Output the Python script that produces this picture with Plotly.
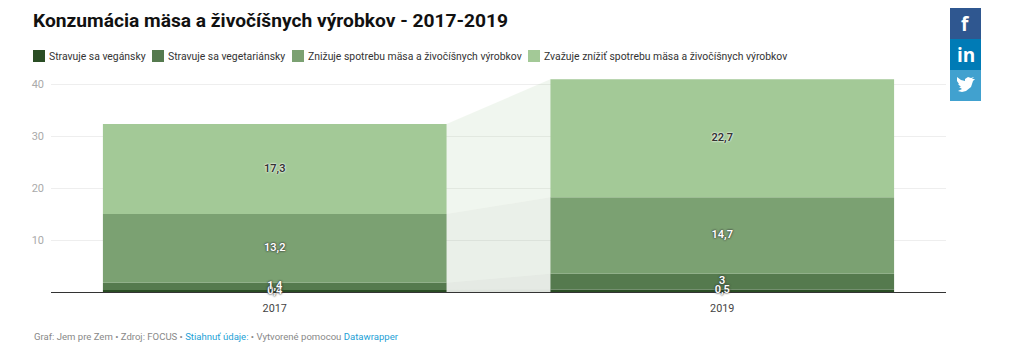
import plotly.graph_objects as go

W, H = 1024, 353
years = ["2017", "2019"]
series_names = ["Stravuje sa vegánsky", "Stravuje sa vegetariánsky",
                "Znižuje spotrebu mäsa a živočíšnych výrobkov",
                "Zvažuje znížiť spotrebu mäsa a živočíšnych výrobkov"]
vegan = [0.4, 0.5]
vegetarian = [1.4, 3]
reducing = [13.2, 14.7]
considering = [17.3, 22.7]
colors = ["#2a4d24", "#557a4e", "#7ba172", "#a3c997"]
text_colors = ["#ffffff", "#ffffff", "#ffffff", "#333333"]
legend_x = [33, 152, 292, 528]
yticks = [10, 20, 30, 40]
title = "Konzumácia mäsa a živočíšnych výrobkov - 2017-2019"

all_series = [vegan, vegetarian, reducing, considering]
xs = [0, 1]
bw = 0.768
FONT = "Roboto"

fig = go.Figure()
base = [0, 0]
for name, vals, c, tc in zip(series_names, all_series, colors, text_colors):
    top = [b + v for b, v in zip(base, vals)]
    fig.add_trace(go.Scatter(
        x=[xs[0] + bw / 2, xs[1] - bw / 2, xs[1] - bw / 2, xs[0] + bw / 2],
        y=[base[0], base[1], top[1], top[0]],
        fill="toself", fillcolor=c, opacity=0.15, mode="none",
        hoverinfo="skip", showlegend=False))
    fig.add_trace(go.Bar(x=xs, y=vals, base=base, width=bw, name=name,
                         marker=dict(color=c, line=dict(width=0)), showlegend=False))
    base = top

base = [0, 0]
for vals, tc in zip(all_series, text_colors):
    mid = [b + v / 2 for b, v in zip(base, vals)]
    shadow = ("0 0 2px #ffffff, 0 0 2px #ffffff" if tc != "#ffffff"
              else "0 0 2px #3a3a3a, 0 0 2px #3a3a3a")
    fig.add_trace(go.Scatter(
        x=xs, y=mid, mode="text",
        text=[str(v).replace(".", ",") for v in vals], textposition="middle center",
        textfont=dict(family=FONT, size=11, color=tc, weight=600, shadow=shadow),
        cliponaxis=False, hoverinfo="skip", showlegend=False))
    base = [b + v for b, v in zip(base, vals)]

shapes, ann = [], []
for lx, name, c in zip(legend_x, series_names, colors):
    shapes.append(dict(type="rect", xref="paper", yref="paper", layer="above",
                       x0=lx / W, x1=(lx + 12) / W, y0=1 - 62 / H, y1=1 - 50 / H,
                       fillcolor=c, line_width=0))
    ann.append(dict(text=name, xref="paper", yref="paper", x=(lx + 14) / W, y=1 - 56 / H,
                    xanchor="left", yanchor="middle", showarrow=False,
                    font=dict(family=FONT, size=10.4, color="#333333")))
ann.append(dict(text="<b>" + title + "</b>", xref="paper", yref="paper", x=31 / W, y=1 - 20 / H,
                xanchor="left", yanchor="middle", showarrow=False,
                font=dict(family=FONT, size=19.2, color="#111111")))
ann.append(dict(text='Graf: Jem pre Zem • Zdroj: FOCUS • <span style="color:#1d9fd6">Stiahnuť údaje:</span> '
                     '• Vytvorené pomocou <span style="color:#1d9fd6">Datawrapper</span>',
                xref="paper", yref="paper", x=32 / W, y=1 - 336 / H,
                xanchor="left", yanchor="middle", showarrow=False,
                font=dict(family=FONT, size=9.55, color="#888888")))
for y0, y1, c, t in [(8, 39, "#2f5790", "<b>f</b>"), (39, 70, "#007bb6", "<b>in</b>"), (70, 101, "#41a1cf", "")]:
    shapes.append(dict(type="rect", xref="paper", yref="paper", layer="above",
                       x0=950 / W, x1=981 / W, y0=1 - y1 / H, y1=1 - y0 / H, fillcolor=c, line_width=0))
    if t:
        ann.append(dict(text=t, xref="paper", yref="paper", x=965.5 / W, y=1 - (y0 + y1) / 2 / H,
                        xanchor="center", yanchor="middle", showarrow=False,
                        font=dict(family="Open Sans", size=19, color="#ffffff")))
shapes.append(dict(type="path", xref="paper", yref="paper", layer="above", fillcolor="#ffffff", line_width=0,
    path="M {} {} ".format(958/W, 1-91/H) +
         " ".join("L {} {}".format(px/W, 1-py/H) for px, py in
                  [(962,92),(966,91),(971,87),(973,81),(975,79),(972,79),(974,77),(971,78),
                   (968,77),(965,79),(965,81),(961,80),(957,77),(957,81),(959,84),(958,84),
                   (961,87),(959,87),(962,89)]) + " Z"))

fig.update_layout(
    width=W, height=H, margin=dict(l=0, r=0, t=0, b=0), autosize=False,
    paper_bgcolor="white", plot_bgcolor="white", barmode="overlay",
    shapes=shapes, annotations=ann, showlegend=False,
    font=dict(family=FONT),
    xaxis=dict(domain=[51 / W, 946 / W], range=[-0.5, 1.5], tickvals=xs, ticktext=years,
               showgrid=False, zeroline=False, showline=False, ticks="", fixedrange=True,
               ticklabelstandoff=8,
               tickfont=dict(family=FONT, size=10.8, color="#444444")),
    yaxis=dict(domain=[(H - 292) / H, (H - 292 + 41 * 5.2) / H], range=[0, 41], tickvals=yticks,
               showgrid=True, gridcolor="#eeeeee", gridwidth=1, zeroline=True, zerolinecolor="#333333",
               zerolinewidth=1, showline=False, ticks="", fixedrange=True, ticklabelstandoff=6,
               tickfont=dict(family=FONT, size=11, color="#aaaaaa"), layer="below traces"),
)
fig.write_html("out.html", post_script="document.body.style.margin='0';",
               config={"displayModeBar": False})
